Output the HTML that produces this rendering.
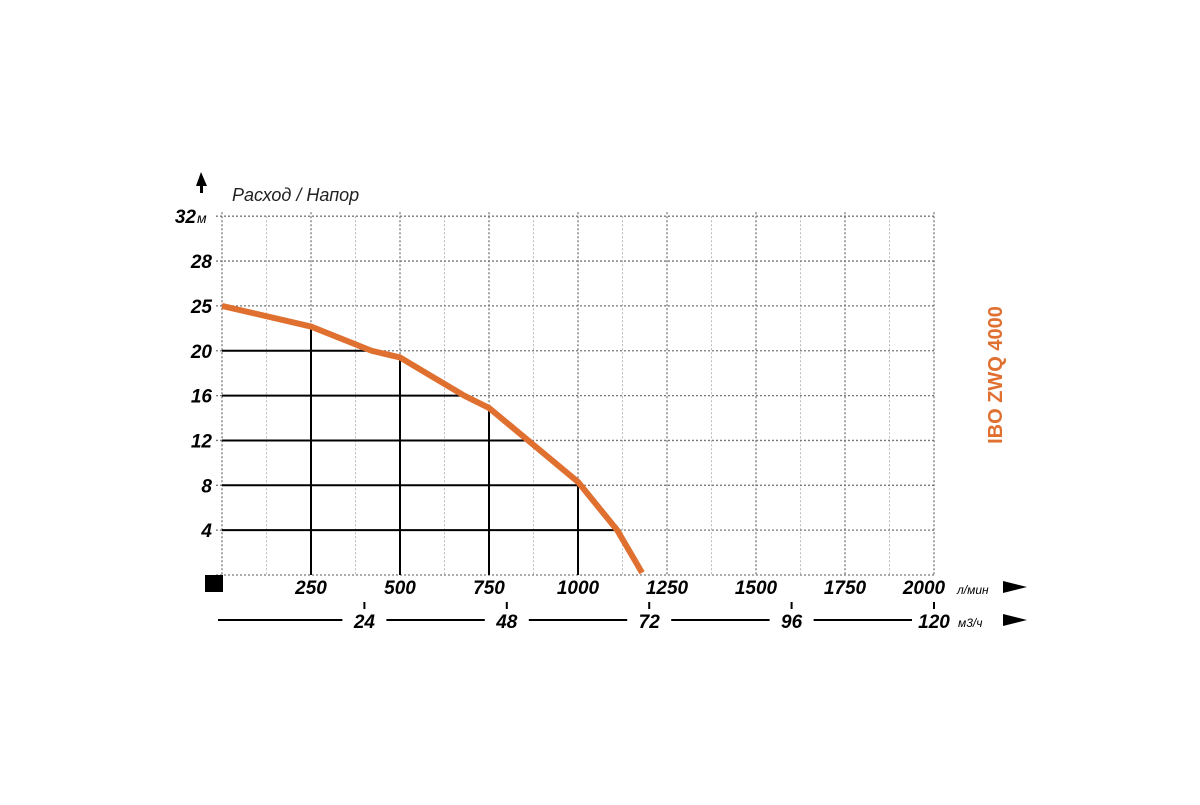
<!DOCTYPE html>
<html><head><meta charset="utf-8"><style>
body{margin:0;background:#fff;}
svg text{font-family:"Liberation Sans",sans-serif;font-style:italic;font-weight:bold;fill:#000;}
</style></head><body>
<svg id="c" width="1200" height="800"></svg>
<script>
const xTicks=[250,500,750,1000,1250,1500,1750,2000];
const yLabels=[0,4,8,12,16,20,25,28,32];
const m3Ticks=[24,48,72,96,120];
const flow=[0,250,420,500,680,750,860,1000,1110,1180];
const head=[25,22.7,20,19.4,16,14.9,12,8.3,4,0.2];
const refX=[250,500,750,1000];
const refY=[20,16,12,8,4];
const NS='http://www.w3.org/2000/svg';
const svg=document.getElementById('c');
const X0=222,X1=934,Y0=575,YSTEP=44.85;
function sx(v){return X0+(X1-X0)*v/2000;}
function sy(v){for(let i=0;i<yLabels.length-1;i++){if(v<=yLabels[i+1]){return Y0-YSTEP*(i+(v-yLabels[i])/(yLabels[i+1]-yLabels[i]));}}return Y0-YSTEP*(yLabels.length-1);}
function sm3(v){return X0+(X1-X0)*v/120;}
function curveX(h){for(let i=0;i<head.length-1;i++){if(h<=head[i]&&h>=head[i+1]){const t=(head[i]-h)/(head[i]-head[i+1]);return flow[i]+t*(flow[i+1]-flow[i]);}}return 0;}
function curveH(f){for(let i=0;i<flow.length-1;i++){if(f>=flow[i]&&f<=flow[i+1]){const t=(f-flow[i])/(flow[i+1]-flow[i]);return head[i]+t*(head[i+1]-head[i]);}}return 0;}
function el(t,a){const e=document.createElementNS(NS,t);for(const k in a)e.setAttribute(k,a[k]);svg.appendChild(e);return e;}
// minor vertical grid
for(let v=125;v<2000;v+=250){const l=el('line',{x1:sx(v),x2:sx(v),y1:sy(32),y2:Y0,stroke:'#bbb','stroke-width':1,'stroke-dasharray':'2,2'});

}
// major vertical grid
[0].concat(xTicks).forEach(v=>{const l=el('line',{x1:sx(v),x2:sx(v),y1:sy(32)-4,y2:Y0,stroke:'#777','stroke-width':1.3,'stroke-dasharray':'2,2'});

});
// horizontal grid + labels
yLabels.forEach(v=>{const y=sy(v);
const l=el('line',{x1:X0-6,x2:X1,y1:y,y2:y,stroke:'#777','stroke-width':1.3,'stroke-dasharray':'2,2'});


if(v>0){const t=el('text',{x:v===32?196:212,y:y+7,'text-anchor':'end','font-size':19});t.textContent=v;

}});
const m=el('text',{x:197,y:sy(32)+7,'font-size':14,'font-weight':'normal'});m.textContent='м';m.style.fontWeight='normal';


// reference lines
refX.forEach(v=>{const l=el('line',{x1:sx(v),x2:sx(v),y1:sy(curveH(v)),y2:Y0,stroke:'#000','stroke-width':2});

});
refY.forEach(v=>{const l=el('line',{x1:X0,x2:sx(curveX(v)),y1:sy(v),y2:sy(v),stroke:'#000','stroke-width':2});

});
// curve
let d='';flow.forEach((f,i)=>{d+=(i?'L':'M')+sx(f)+','+sy(head[i]);});
const p=el('path',{d:d,fill:'none',stroke:'#e07030','stroke-width':6,'stroke-linejoin':'round'});


// x labels
xTicks.forEach(v=>{const t=el('text',{x:sx(v)-(v===2000?10:0),y:594,'text-anchor':'middle','font-size':19});t.textContent=v;

});
const u1=el('text',{x:957,y:594,'font-size':12});u1.textContent='л/мин';u1.style.fontWeight='normal';


const a1=el('path',{d:'M1003,581 L1027,587 L1003,593 Z',fill:'#000'});


// square
const sq=el('rect',{x:205,y:575,width:18,height:17,fill:'#000'});


// m3 axis
const base=el('line',{x1:218,x2:1000,y1:620,y2:620,stroke:'#000','stroke-width':2});


m3Ticks.forEach(v=>{const x=sm3(v);
const r=el('rect',{x:x-22,y:608,width:44,height:24,fill:'#fff'});


const tk=el('line',{x1:x,x2:x,y1:602,y2:609,stroke:'#000','stroke-width':2});


const t=el('text',{x:x,y:628,'text-anchor':'middle','font-size':19});t.textContent=v;

});
const r2=el('rect',{x:955,y:608,width:45,height:24,fill:'#fff'});


const u2=el('text',{x:958,y:627,'font-size':12});u2.textContent='м3/ч';u2.style.fontWeight='normal';


const a2=el('path',{d:'M1003,614 L1027,620 L1003,626 Z',fill:'#000'});


// y arrow + title
const ya=el('path',{d:'M201,172 L196,186 L200,186 L200,193 L203,193 L203,186 L207,186 Z',fill:'#000'});


const tt=el('text',{x:232,y:201,'font-size':18});tt.textContent='Расход / Напор';tt.style.fontWeight='normal';tt.style.fill='#222';


// model label
const ml=el('text',{x:0,y:0,'font-size':20,transform:'translate(1002,375) rotate(-90)','text-anchor':'middle'});ml.textContent='IBO ZWQ 4000';ml.style.fill='#e07030';ml.style.fontStyle='normal';


</script>
</body></html>
